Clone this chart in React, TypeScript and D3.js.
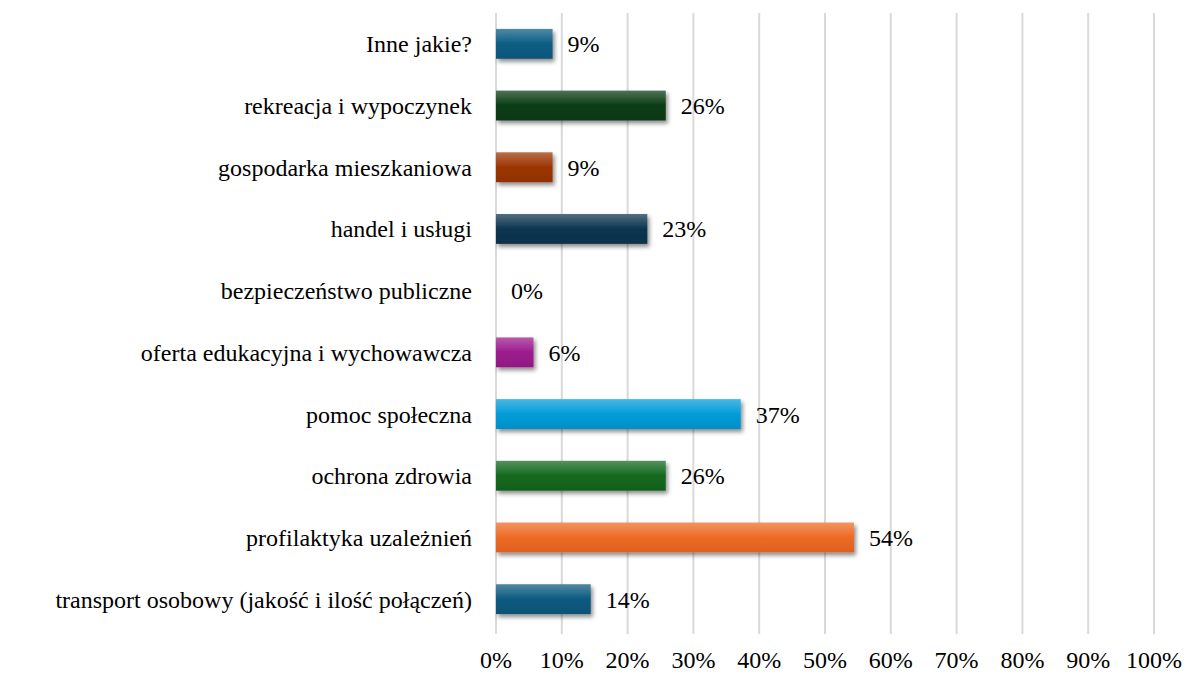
import React, { useEffect, useRef } from "react";
import * as d3 from "d3";

const categories = [
  "Inne jakie?",
  "rekreacja i wypoczynek",
  "gospodarka mieszkaniowa",
  "handel i usługi",
  "bezpieczeństwo publiczne",
  "oferta edukacyjna i wychowawcza",
  "pomoc społeczna",
  "ochrona zdrowia",
  "profilaktyka uzależnień",
  "transport osobowy (jakość i ilość połączeń)",
];
const values = [8.6, 25.8, 8.6, 23, 0, 5.7, 37.2, 25.8, 54.4, 14.4];
const valueLabels = ["9%", "26%", "9%", "23%", "0%", "6%", "37%", "26%", "54%", "14%"];
const barColors = [
  "#0b5d84",
  "#0a3d14",
  "#9c3602",
  "#0c3550",
  "#888888",
  "#9d1b8d",
  "#029cda",
  "#13691f",
  "#ee6a24",
  "#0c5a80",
];
const xTicks = [0, 10, 20, 30, 40, 50, 60, 70, 80, 90, 100];

const App = () => {
  const ref = useRef(null);
  const W = 1186;
  const H = 673;
  const margin = { top: 13, right: 32, bottom: 43, left: 496 };
  const width = W - margin.left - margin.right;
  const height = H - margin.top - margin.bottom;

  useEffect(() => {
    const svg = d3.select(ref.current);
    svg.selectAll("*").remove();

    const font = "Liberation Serif, Times New Roman, Times, DejaVu Serif, serif";

    const xScale = d3.scaleLinear().domain([0, 100]).range([0, width]);
    const yScale = d3
      .scaleBand()
      .domain(categories)
      .range([0, height])
      .paddingInner(0.516)
      .paddingOuter(0.258);

    const defs = svg.append("defs");
    const filter = defs
      .append("filter")
      .attr("id", "shadow")
      .attr("x", "-10%")
      .attr("y", "-30%")
      .attr("width", "130%")
      .attr("height", "190%");
    filter
      .append("feDropShadow")
      .attr("dx", 2)
      .attr("dy", 3)
      .attr("stdDeviation", 2.2)
      .attr("flood-color", "#000")
      .attr("flood-opacity", 0.45);

    barColors.forEach((c, i) => {
      const g = defs
        .append("linearGradient")
        .attr("id", `grad${i}`)
        .attr("x1", 0)
        .attr("y1", 0)
        .attr("x2", 0)
        .attr("y2", 1);
      const base = d3.color(c);
      g.append("stop")
        .attr("offset", "0%")
        .attr("stop-color", d3.interpolateRgb(c, "#ffffff")(0.28));
      g.append("stop").attr("offset", "50%").attr("stop-color", c);
      g.append("stop")
        .attr("offset", "100%")
        .attr("stop-color", base.darker(0.25).toString());
    });

    const graph = svg
      .append("g")
      .attr("transform", `translate(${margin.left},${margin.top})`)
      .style("font-family", font)
      .style("font-size", "24px");

    //// Grid
    graph
      .append("g")
      .selectAll("line")
      .data(xTicks)
      .join("line")
      .attr("x1", (d) => xScale(d))
      .attr("x2", (d) => xScale(d))
      .attr("y1", 0)
      .attr("y2", height + 4)
      .attr("stroke", "#d9d9d9")
      .attr("stroke-width", 2);

    //// Bars
    graph
      .append("g")
      .selectAll("rect")
      .data(values)
      .join("rect")
      .attr("x", 0)
      .attr("y", (d, i) => yScale(categories[i]))
      .attr("width", (d) => xScale(d))
      .attr("height", yScale.bandwidth())
      .attr("fill", (d, i) => `url(#grad${i})`)
      .attr("filter", "url(#shadow)");

    //// Value labels
    graph
      .append("g")
      .selectAll("text")
      .data(values)
      .join("text")
      .attr("x", (d) => xScale(d) + 15)
      .attr("y", (d, i) => yScale(categories[i]) + yScale.bandwidth() / 2 + 8.5)
      .attr("fill", "#000")
      .text((d, i) => valueLabels[i]);

    //// Category labels
    graph
      .append("g")
      .selectAll("text")
      .data(categories)
      .join("text")
      .attr("x", -24)
      .attr("y", (d) => yScale(d) + yScale.bandwidth() / 2 + 8.5)
      .attr("text-anchor", "end")
      .attr("fill", "#000")
      .text((d) => d);

    //// X axis labels
    graph
      .append("g")
      .selectAll("text")
      .data(xTicks)
      .join("text")
      .attr("x", (d) => xScale(d))
      .attr("y", height + 38)
      .attr("text-anchor", "middle")
      .attr("fill", "#000")
      .text((d) => `${d}%`);
  }, []);

  return (
    <svg
      ref={ref}
      width={W}
      height={H}
      style={{ position: "absolute", left: 0, top: 0, background: "#fff" }}
    ></svg>
  );
};

export default App;
